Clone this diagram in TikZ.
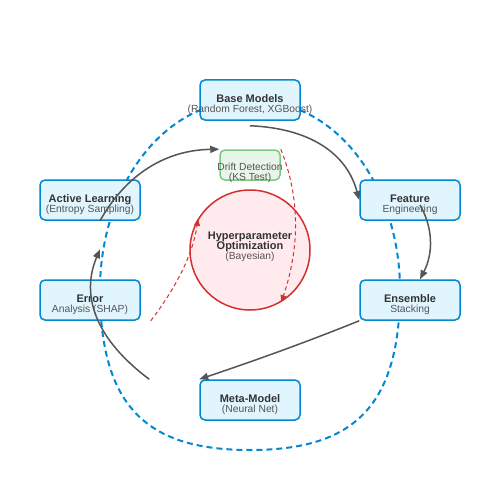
\documentclass[tikz,border=0pt]{standalone}
\usepackage{fontspec}
\setmainfont{Liberation Sans}
\usetikzlibrary{arrows.meta,calc}
\definecolor{boxblue}{HTML}{0288D1}
\definecolor{boxfill}{HTML}{E1F5FE}
\definecolor{drgreen}{HTML}{81C784}
\definecolor{drfill}{HTML}{E8F5E9}
\definecolor{hpred}{HTML}{D32F2F}
\definecolor{hpfill}{HTML}{FFEBEE}
\definecolor{txtdark}{HTML}{333333}
\definecolor{txtsub}{HTML}{555555}
\definecolor{arrgray}{HTML}{555555}
\begin{document}
\begin{tikzpicture}[x=1pt,y=-1pt,
  box/.style={draw=boxblue,fill=boxfill,line width=1.5pt,rounded corners=5pt,
    minimum width=100pt,minimum height=40pt,inner sep=0pt},
  driftbox/.style={draw=drgreen,fill=drfill,line width=1.5pt,rounded corners=5pt,
    minimum width=60pt,minimum height=30pt,inner sep=0pt},
  hpcircle/.style={circle,draw=hpred,fill=hpfill,line width=1.5pt,
    minimum size=120pt,inner sep=0pt},
  ttl/.style={anchor=base,inner sep=0pt,text=txtdark,font=\fontsize{11}{13}\selectfont\bfseries},
  sub/.style={anchor=base,inner sep=0pt,text=txtsub,font=\fontsize{10.3}{12}\selectfont},
  flow/.style={draw=arrgray,line width=1.5pt,-{Triangle[length=9pt,width=7pt]}},
  feedback/.style={draw=hpred,line width=1pt,dash pattern=on 4pt off 3pt,
    -{Triangle[length=7pt,width=6pt]}},
  loopline/.style={draw=boxblue,line width=2pt,dash pattern=on 6pt off 4pt}
]
\useasboundingbox[fill=white] (0,0) rectangle (500,500);

% dashed loop
\draw[loopline] (250,100) .. controls (160,100) and (100,190) .. (100,290)
  .. controls (100,410) and (150,450) .. (250,450)
  .. controls (350,450) and (400,410) .. (400,290)
  .. controls (400,190) and (340,100) .. (250,100);

% center circle
\node[hpcircle] (hp) at (250,250) {};
\node[ttl] (hpt1) at (250,239.7) {Hyperparameter};
\node[ttl] (hpt2) at (250,249.7) {Optimization};
\node[sub] (hps) at (250,259.2) {(Bayesian)};

% boxes
\node[box] (bm) at (250,100) {};
\node[ttl] (bmt) at (250,102.7) {Base Models};
\node[sub] (bms) at (250,112.2) {(Random Forest, XGBoost)};

\node[box] (fe) at (410,200) {};
\node[ttl] (fet) at (410,202.7) {Feature};
\node[sub] (fes) at (410,212.2) {Engineering};

\node[box] (en) at (410,300) {};
\node[ttl] (ent) at (410,302.7) {Ensemble};
\node[sub] (ens) at (410,312.2) {Stacking};

\node[box] (mm) at (250,400) {};
\node[ttl] (mmt) at (250,402.7) {Meta-Model};
\node[sub] (mms) at (250,412.2) {(Neural Net)};

\node[box] (ea) at (90,300) {};
\node[ttl] (eat) at (90,302.7) {Error};
\node[sub] (eas) at (90,312.2) {Analysis (SHAP)};

\node[box] (al) at (90,200) {};
\node[ttl] (alt) at (90,202.7) {Active Learning};
\node[sub] (als) at (90,212.2) {(Entropy Sampling)};

\node[driftbox] (dd) at (250,165) {};
\node[sub] (ddt) at (250,170.2) {Drift Detection};
\node[sub] (dds) at (250,180.2) {(KS Test)};

% flow arrows
\draw[flow] ([yshift=-5pt]bm.south) .. controls (310,128.3) and (346.7,153.3) .. (fe.west);
\draw[flow] ([xshift=10pt,yshift=-5pt]fe.center) .. controls (433.3,228.3) and (433.3,253.3) .. ([xshift=10pt]en.north);
\draw[flow] (en.south west) .. controls (320,336.7) and (266.7,356.7) .. (mm.north west);
\draw[flow] ([xshift=-50pt]mm.north west) .. controls (96.7,340) and (80,296.7) .. ([xshift=10pt,yshift=30pt]ea.north);
\draw[flow] ([xshift=10pt]al.south) .. controls (126.7,173.3) and (166.7,150) .. (dd.north west);

% feedback arrows
\draw[feedback] (dd.north east) .. controls (300,196.7) and (300,246.7) .. (hp.-59);
\draw[feedback] ([xshift=10pt]ea.south east) .. controls (176.7,286.7) and (193.3,253.3) .. (hp.149);
\end{tikzpicture}
\end{document}
